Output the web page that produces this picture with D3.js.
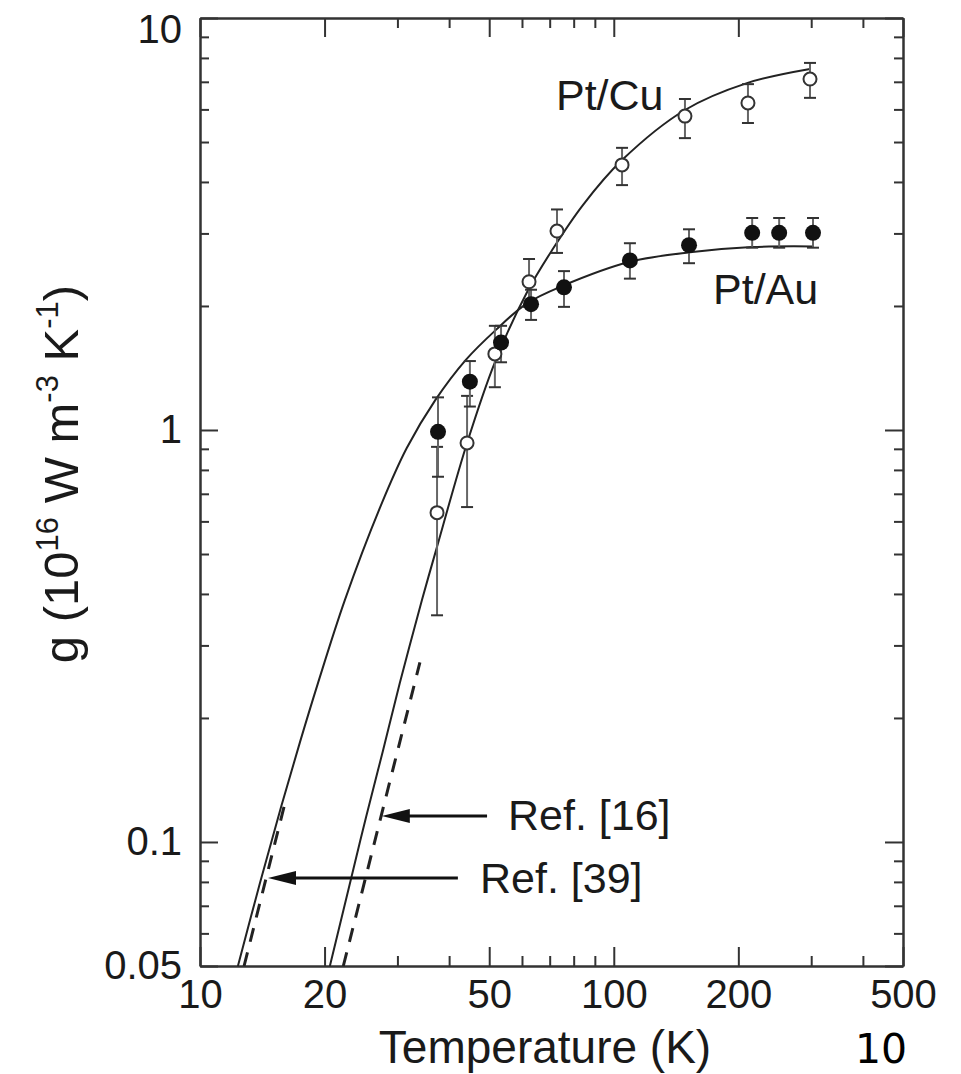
<!DOCTYPE html>
<html>
  <head>
    <meta charset="utf-8">
    <title>g vs temperature</title>
    <style>
      body{ margin:0; background:#fff; }
      svg{ display:block; font-family:"Liberation Sans", Arial, sans-serif; }
      .axis path{ stroke:#333; stroke-width:2; }
      .axis line{ stroke:#333; stroke-width:2; }
      .axis text{ font-size:40px; fill:#1a1a1a; }
    </style>
  </head>
  <body>
    <svg id="chart" width="961" height="1074"></svg>
  </body>
  <script src="https://cdn.jsdelivr.net/npm/d3@7"></script>
  <script>
    // x ticks
    var xMajor = [10, 20, 50, 100, 200, 500]
    var xMinor = [30, 40, 60, 70, 80, 90, 300, 400]
    // y ticks
    var yMajor = [0.05, 0.1, 1, 10]
    var yLabels = ["0.05", "0.1", "1", "10"]
    var yMinor = [0.06, 0.07, 0.08, 0.09, 0.2, 0.3, 0.4, 0.5, 0.6, 0.7, 0.8, 0.9, 2, 3, 4, 5, 6, 7, 8, 9]

    // Pt/Cu measurements (open circles)
    var cuT  = [37.4, 44.2, 51.6, 62.4, 72.9, 104.7, 148.6, 211, 298]
    var cuG  = [0.63, 0.93, 1.53, 2.29, 3.04, 4.40, 5.78, 6.22, 7.11]
    var cuLo = [0.355, 0.65, 1.27, 1.99, 2.69, 3.93, 5.11, 5.56, 6.40]
    var cuHi = [0.91, 1.21, 1.79, 2.60, 3.43, 4.84, 6.36, 6.91, 7.78]

    // Pt/Au measurements (filled circles)
    var auT  = [37.6, 44.9, 53.4, 63.1, 75.8, 109.4, 152, 216, 251, 303]
    var auG  = [0.99, 1.31, 1.63, 2.02, 2.22, 2.58, 2.81, 3.01, 3.01, 3.01]
    var auLo = [0.77, 1.14, 1.46, 1.85, 1.99, 2.33, 2.54, 2.77, 2.77, 2.77]
    var auHi = [1.20, 1.47, 1.79, 2.19, 2.43, 2.84, 3.07, 3.27, 3.27, 3.27]

    // fitted curves
    var cuFitT = [20.6, 23.2, 25.2, 27.7, 30.4, 34.4, 37.2, 44.2, 51.6, 61.7, 70.9, 84.3, 104.7, 148.6, 209.8, 298]
    var cuFitG = [0.05, 0.0818, 0.115, 0.167, 0.243, 0.387, 0.511, 0.93, 1.46, 2.16, 2.73, 3.52, 4.52, 5.98, 6.95, 7.52]
    var auFitT = [12.35, 13.96, 15.7, 17.45, 19.28, 22.4, 27.4, 31.6, 37.0, 43.9, 51.9, 61.7, 75.4, 109.4, 152.8, 215.8, 303]
    var auFitG = [0.05, 0.0795, 0.1216, 0.175, 0.243, 0.387, 0.658, 0.904, 1.18, 1.48, 1.75, 2.03, 2.24, 2.56, 2.70, 2.78, 2.79]

    // low-temperature estimates from the references (dashed)
    var ref39T = [12.78, 16.1]
    var ref39G = [0.05, 0.126]
    var ref16T = [22.2, 34.0]
    var ref16G = [0.05, 0.273]

    var W = 961, H = 1074
    var mLeft = 200, mRight = 903, mTop = 18, mBottom = 966

    var svg = d3.select("#chart")
    svg.append("rect").attr("width", W).attr("height", H).attr("fill", "#fff")

    var x = d3.scaleLog().domain([10, 500]).range([mLeft, mRight])
    var y = d3.scaleLog().domain([0.05, 10]).range([mBottom, mTop])

    // frame + axes (ticks point inwards on all four sides)
    var fmtX = function(d){ return String(d) }
    svg.append("g").attr("class", "axis").attr("transform", "translate(0," + mBottom + ")")
      .call(d3.axisBottom(x).tickValues(xMajor).tickSize(-19).tickSizeOuter(0).tickPadding(14).tickFormat(fmtX))
    svg.append("g").attr("class", "axis").attr("transform", "translate(0," + mBottom + ")")
      .call(d3.axisBottom(x).tickValues(xMinor).tickSize(-10).tickSizeOuter(0).tickFormat(""))
    svg.append("g").attr("class", "axis").attr("transform", "translate(0," + mTop + ")")
      .call(d3.axisTop(x).tickValues(xMajor).tickSize(-19).tickSizeOuter(0).tickFormat(""))
    svg.append("g").attr("class", "axis").attr("transform", "translate(0," + mTop + ")")
      .call(d3.axisTop(x).tickValues(xMinor).tickSize(-10).tickSizeOuter(0).tickFormat(""))

    var yAxis = svg.append("g").attr("class", "axis").attr("transform", "translate(" + mLeft + ",0)")
      .call(d3.axisLeft(y).tickValues(yMajor).tickSize(-18).tickSizeOuter(0).tickPadding(18)
        .tickFormat(function(d, i){ return yLabels[i] }))
    svg.append("g").attr("class", "axis").attr("transform", "translate(" + mLeft + ",0)")
      .call(d3.axisLeft(y).tickValues(yMinor).tickSize(-9).tickSizeOuter(0).tickFormat(""))
    svg.append("g").attr("class", "axis").attr("transform", "translate(" + mRight + ",0)")
      .call(d3.axisRight(y).tickValues(yMajor).tickSize(-18).tickSizeOuter(0).tickFormat(""))
    svg.append("g").attr("class", "axis").attr("transform", "translate(" + mRight + ",0)")
      .call(d3.axisRight(y).tickValues(yMinor).tickSize(-9).tickSizeOuter(0).tickFormat(""))

    // keep the top "10" label inside the page
    yAxis.selectAll("text").filter(function(d){ return d === 10 }).attr("dy", "0.62em")

    var plot = svg.append("g")

    var line = d3.line().x(function(d){ return x(d[0]) }).y(function(d){ return y(d[1]) })
      .curve(d3.curveCatmullRom.alpha(0.5))
    var zip = function(a, b){ return a.map(function(v, i){ return [v, b[i]] }) }

    plot.append("path").datum(zip(cuFitT, cuFitG)).attr("d", line)
      .attr("fill", "none").attr("stroke", "#222").attr("stroke-width", 2)
    plot.append("path").datum(zip(auFitT, auFitG)).attr("d", line)
      .attr("fill", "none").attr("stroke", "#222").attr("stroke-width", 2)

    var straight = d3.line().x(function(d){ return x(d[0]) }).y(function(d){ return y(d[1]) })
    ;[[ref39T, ref39G], [ref16T, ref16G]].forEach(function(r){
      plot.append("path").datum(zip(r[0], r[1])).attr("d", straight)
        .attr("fill", "none").attr("stroke", "#222").attr("stroke-width", 3)
        .attr("stroke-dasharray", "14,11")
    })

    // error bars
    function errorBars(T, lo, hi){
      var g = plot.append("g").attr("stroke", "#666").attr("stroke-width", 2)
      var rows = T.map(function(t, i){ return {t:t, lo:lo[i], hi:hi[i]} })
      g.selectAll(".bar").data(rows).enter().append("line")
        .attr("x1", function(d){ return x(d.t) }).attr("x2", function(d){ return x(d.t) })
        .attr("y1", function(d){ return y(d.lo) }).attr("y2", function(d){ return y(d.hi) })
      ;["lo", "hi"].forEach(function(k){
        g.selectAll(".cap" + k).data(rows).enter().append("line")
          .attr("stroke", "#333")
          .attr("x1", function(d){ return x(d.t) - 6 }).attr("x2", function(d){ return x(d.t) + 6 })
          .attr("y1", function(d){ return y(d[k]) }).attr("y2", function(d){ return y(d[k]) })
      })
    }
    errorBars(cuT, cuLo, cuHi)
    errorBars(auT, auLo, auHi)

    plot.selectAll(".cu").data(zip(cuT, cuG)).enter().append("circle")
      .attr("cx", function(d){ return x(d[0]) }).attr("cy", function(d){ return y(d[1]) })
      .attr("r", 6.5).attr("fill", "#fff").attr("stroke", "#333").attr("stroke-width", 2)
    plot.selectAll(".au").data(zip(auT, auG)).enter().append("circle")
      .attr("cx", function(d){ return x(d[0]) }).attr("cy", function(d){ return y(d[1]) })
      .attr("r", 8).attr("fill", "#111")

    // arrows pointing at the reference curves
    var arrows = [
      {tip:[27.5, 0.1156], tail:[49.4, 0.1156]},
      {tip:[14.6, 0.0818], tail:[42.0, 0.0818]}
    ]
    arrows.forEach(function(a){
      var tx = x(a.tip[0]), ty = y(a.tip[1]), ex = x(a.tail[0])
      plot.append("line").attr("x1", tx + 20).attr("x2", ex).attr("y1", ty).attr("y2", ty)
        .attr("stroke", "#111").attr("stroke-width", 3)
      plot.append("path").attr("d", "M" + tx + "," + ty + "L" + (tx + 28) + "," + (ty - 7) + "L" + (tx + 28) + "," + (ty + 7) + "Z")
        .attr("fill", "#111")
    })

    // text labels
    var notes = [
      {text:"Pt/Cu", t:72.5, g:5.98},
      {text:"Pt/Au", t:173.7, g:2.02},
      {text:"Ref. [16]", t:55.5, g:0.107},
      {text:"Ref. [39]", t:47.5, g:0.0752}
    ]
    svg.selectAll(".note").data(notes).enter().append("text")
      .attr("x", function(d){ return x(d.t) }).attr("y", function(d){ return y(d.g) })
      .attr("font-size", 43).attr("fill", "#1a1a1a").text(function(d){ return d.text })

    // axis titles
    svg.append("text").attr("x", 545).attr("y", 1063).attr("text-anchor", "middle")
      .attr("font-size", 46).attr("fill", "#1a1a1a").text("Temperature (K)")

    var yt = svg.append("text").attr("transform", "translate(78,474) rotate(-90)")
      .attr("text-anchor", "middle").attr("font-size", 49).attr("fill", "#1a1a1a")
    yt.append("tspan").text("g (10")
    yt.append("tspan").attr("font-size", 31).attr("dy", -20).text("16")
    yt.append("tspan").attr("dy", 20).text(" W m")
    yt.append("tspan").attr("font-size", 31).attr("dy", -20).text("-3")
    yt.append("tspan").attr("dy", 20).text(" K")
    yt.append("tspan").attr("font-size", 31).attr("dy", -20).text("-1")
    yt.append("tspan").attr("dy", 20).text(")")

    // page number
    svg.append("text").attr("x", 855).attr("y", 1063)
      .attr("font-family", "DejaVu Sans").attr("font-size", 41).attr("fill", "#000").text("10")
  </script>
</html>
